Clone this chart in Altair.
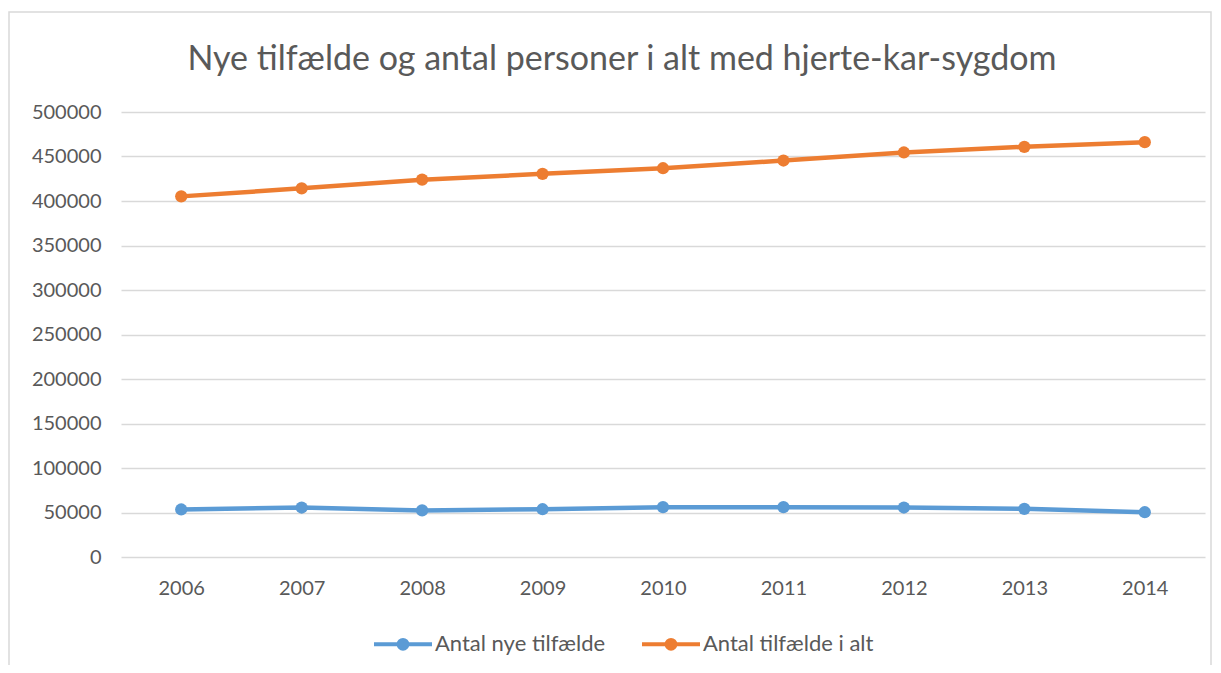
import altair as alt
import pandas as pd

years = ["2006", "2007", "2008", "2009", "2010", "2011", "2012", "2013", "2014"]
nye = [53400, 55600, 52300, 53700, 56000, 56000, 55600, 54100, 50300]
ialt = [405200, 414200, 424000, 430500, 436800, 445500, 454500, 460900, 466100]
series_names = ["Antal nye tilfælde", "Antal tilfælde i alt"]
colors = ["#5B9BD5", "#ED7D31"]
y_ticks = [0, 50000, 100000, 150000, 200000, 250000, 300000, 350000, 400000, 450000, 500000]

rows = []
for y, v in zip(years, nye):
    rows.append({"year": y, "value": v, "serie": series_names[0]})
for y, v in zip(years, ialt):
    rows.append({"year": y, "value": v, "serie": series_names[1]})
df = pd.DataFrame(rows)

FONT = "Lato"
TXT = "#595959"

legend_path = ("M-1,0L1,0M-0.15,0a0.15,0.15 0 1,0 0.3,0a0.15,0.15 0 1,0 -0.3,0")

frame = alt.Chart(pd.DataFrame({"a": [0]})).mark_rect(
    fill=None, stroke="#D9D9D9", strokeWidth=1.5
).encode(
    x=alt.value(-112), x2=alt.value(1090), y=alt.value(-100), y2=alt.value(600)
)

lines = alt.Chart(df).mark_line(strokeWidth=4.5, point=alt.OverlayMarkDef(size=150, filled=True, opacity=1)).encode(
    x=alt.X("year:N", sort=years, scale=alt.Scale(paddingOuter=0.5, paddingInner=0),
            axis=alt.Axis(title=None, labelAngle=0, domain=False, ticks=False, grid=False,
                          labelPadding=21, labelFontSize=20, labelColor=TXT, labelFont=FONT)),
    y=alt.Y("value:Q", scale=alt.Scale(domain=[0, 500000], nice=False),
            axis=alt.Axis(title=None, values=y_ticks, format="d", domain=False, ticks=False,
                          labelPadding=20, labelFontSize=20, labelColor=TXT, labelFont=FONT,
                          gridColor="#D9D9D9", gridWidth=1.3)),
    color=alt.Color("serie:N", scale=alt.Scale(domain=series_names, range=colors),
                    legend=alt.Legend(title=None, orient="none", direction="horizontal",
                                      legendX=251, legendY=501,
                                      symbolType=legend_path, symbolSize=3364,
                                      symbolStrokeWidth=4, symbolFillColor=None,
                                      labelFontSize=22, labelColor=TXT, labelFont=FONT,
                                      labelLimit=400, labelOffset=1, columnPadding=28)),
)

chart = alt.layer(frame, lines).properties(
    width=1084, height=445,
    padding={"left": 113, "top": 104, "right": 8, "bottom": 108},
    autosize=alt.AutoSizeParams(type="none"),
    title=alt.TitleParams("Nye tilfælde og antal personer i alt med hjerte-kar-sygdom",
                          fontSize=34, font=FONT, fontWeight="normal", color=TXT,
                          anchor="middle", dx=-41, offset=-66),
).configure(background="white").configure_view(stroke=None)

chart.save("out.html", embed_options={"renderer": "svg", "actions": False})
